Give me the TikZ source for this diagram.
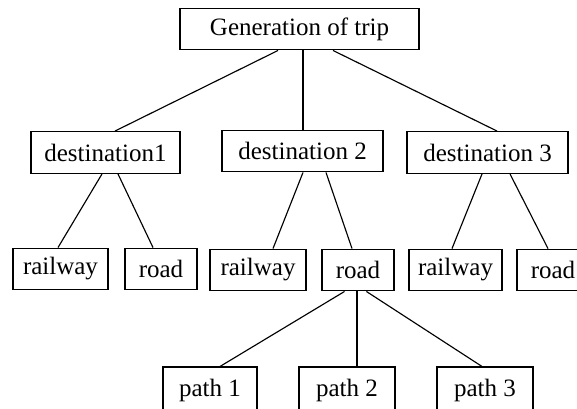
\documentclass[tikz,border=0pt]{standalone}
\usepackage{fontspec}
\setmainfont{Liberation Serif}
\usetikzlibrary{positioning}

\begin{document}
\begin{tikzpicture}[x=0.48pt,y=-0.48pt,
    box/.style={draw,line width=0.6pt,inner sep=0pt,minimum height=20pt,
        font=\fontsize{12}{14}\selectfont},
    link/.style={line width=0.55pt}]
                \useasboundingbox (0,0) rectangle (577,408);
                \clip (0,0) rectangle (577,408);
                % top
                \node[box,minimum width=114.7pt] (trip) at (299.5,29) {Generation of trip};
                % destinations
                \node[box,minimum width=71.5pt] (dest1) at (105.5,152.5) {destination1};
                \node[box,minimum width=77.3pt] (dest2) at (302.5,151) {destination 2};
                \node[box,minimum width=77.3pt] (dest3) at (487.5,152.5) {destination 3};
                % modes
                \node[box,minimum width=45.6pt] (rail1) at (60.5,269) {railway};
                \node[box,minimum width=34.6pt] (road1) at (161,269) {road};
                \node[box,minimum width=46.1pt] (rail2) at (258,270) {railway};
                \node[box,minimum width=34.6pt] (road2) at (358,270) {road};
                \node[box,minimum width=44.6pt] (rail3) at (455.5,270) {railway};
                \node[box,minimum width=34.6pt] (road3) at (553,270) {road};
                % paths
                \node[box,minimum width=45.1pt,minimum height=22pt] (path1) at (210,390) {path 1};
                \node[box,minimum width=46.1pt,minimum height=22pt] (path2) at (347,390) {path 2};
                \node[box,minimum width=46.1pt,minimum height=22pt] (path3) at (485,390) {path 3};
                \draw[link] ([shift={(-21.5,0)}]trip.south) -- ([shift={(9.5,0)}]dest1.north);
                \draw[link] ([shift={(3.5,0)}]trip.south) -- ([shift={(0.5,0)}]dest2.north);
                \draw[link] ([shift={(33.5,0)}]trip.south) -- ([shift={(9.5,0)}]dest3.north);
                \draw[link] ([shift={(-3.5,0)}]dest1.south) -- ([shift={(-2.5,0)}]rail1.north);
                \draw[link] ([shift={(12.5,0)}]dest1.south) -- ([shift={(-8,0)}]road1.north);
                \draw[link] ([shift={(0.5,0)}]dest2.south) -- ([shift={(15,0)}]rail2.north);
                \draw[link] ([shift={(23.5,0)}]dest2.south) -- ([shift={(-6,0)}]road2.north);
                \draw[link] ([shift={(-5.5,0)}]dest3.south) -- ([shift={(-3.5,0)}]rail3.north);
                \draw[link] ([shift={(22.5,0)}]dest3.south) -- ([shift={(-5,0)}]road3.north);
                \draw[link] ([shift={(-13.5,0)}]road2.south) -- ([shift={(10,0)}]path1.north);
                \draw[link] ([shift={(-1,0)}]road2.south) -- ([shift={(10,0)}]path2.north);
                \draw[link] ([shift={(8.4,0)}]road2.south) -- ([shift={(-3,0)}]path3.north);
            \end{tikzpicture}
\end{document}
